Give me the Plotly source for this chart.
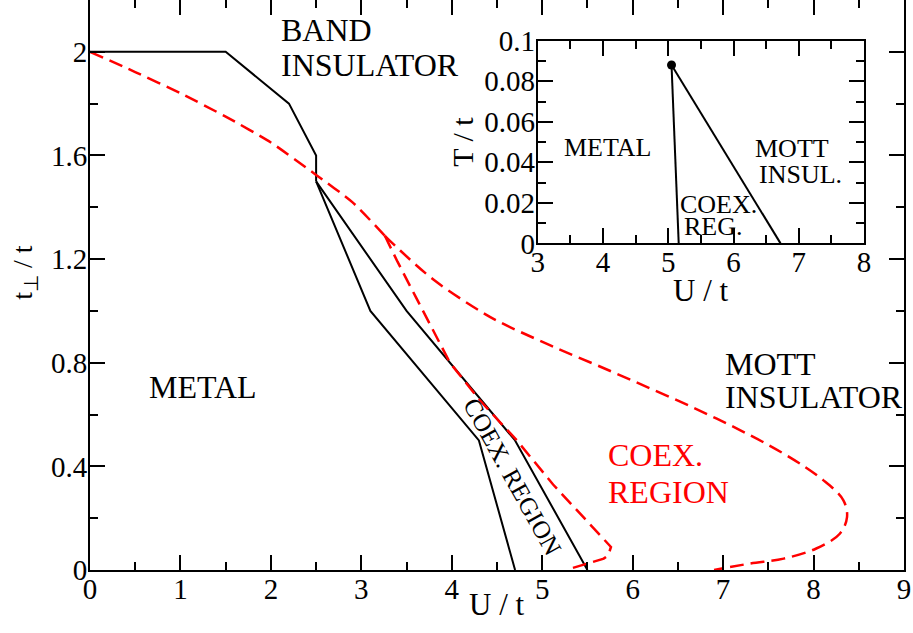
import plotly.graph_objects as go

# ---- main panel: t_perp/t versus U/t ----
# solid phase boundaries
band_U = [0.0, 1.5, 2.2, 2.5, 2.5]
band_tp = [2.0, 2.0, 1.8, 1.6, 1.5]
uc1_U = [2.5, 3.1, 4.3, 4.7]
uc1_tp = [1.5, 1.0, 0.5, 0.0]
uc2_U = [2.5, 3.5, 4.7, 5.5]
uc2_tp = [1.5, 1.0, 0.5, 0.0]

# dashed boundaries
dash_top_U = [0.0, 0.5, 1.0, 1.5, 2.0, 2.5, 2.9, 3.26]
dash_top_tp = [2.0, 1.922, 1.84, 1.75, 1.65, 1.525, 1.42, 1.29]
dash_out_U = [3.26, 3.43, 3.8, 4.31, 4.53, 5.09, 5.82, 6.93, 7.67, 8.11,
              8.33, 8.37, 8.29, 8.03, 7.67, 7.30, 6.9]
dash_out_tp = [1.29, 1.233, 1.12, 1.0, 0.957, 0.867, 0.758, 0.584, 0.449, 0.346,
               0.269, 0.204, 0.14, 0.083, 0.044, 0.025, 0.0]
dash_in_U = [3.26, 3.4, 3.6, 3.8, 3.98, 4.31, 4.72, 5.12, 5.49, 5.70, 5.76,
             5.73, 5.68, 5.31, 5.28]
dash_in_tp = [1.29, 1.19, 1.055, 0.92, 0.80, 0.655, 0.50, 0.33, 0.19, 0.11, 0.089,
              0.057, 0.044, 0.005, 0.0]

# ---- inset: T/t versus U/t ----
crit_U = [5.05]
crit_T = [0.088]
inset_uc1_U = [5.05, 5.16]
inset_uc1_T = [0.088, 0.0]
inset_uc2_U = [5.05, 6.72]
inset_uc2_T = [0.088, 0.0]

FONT = "Liberation Serif"
BLACK = "black"
RED = "#ff0000"

fig = go.Figure()

solid = dict(color=BLACK, width=2)
for xs, ys in [(band_U, band_tp), (uc1_U, uc1_tp), (uc2_U, uc2_tp)]:
    fig.add_trace(go.Scatter(x=xs, y=ys, mode="lines", line=solid,
                             xaxis="x", yaxis="y", showlegend=False, hoverinfo="skip"))

dashed = dict(color=RED, width=2.5, dash="14px,7px")
fig.add_trace(go.Scatter(x=dash_top_U, y=dash_top_tp, mode="lines",
                         line=dict(dashed, shape="spline", smoothing=0.6),
                         showlegend=False, hoverinfo="skip"))
fig.add_trace(go.Scatter(x=dash_out_U, y=dash_out_tp, mode="lines",
                         line=dict(dashed, shape="spline"), showlegend=False, hoverinfo="skip"))
fig.add_trace(go.Scatter(x=dash_in_U, y=dash_in_tp, mode="lines",
                         line=dashed, showlegend=False, hoverinfo="skip"))

# inset traces
fig.add_trace(go.Scatter(x=inset_uc1_U, y=inset_uc1_T, mode="lines", line=solid,
                         xaxis="x2", yaxis="y2", showlegend=False, hoverinfo="skip"))
fig.add_trace(go.Scatter(x=inset_uc2_U, y=inset_uc2_T, mode="lines", line=solid,
                         xaxis="x2", yaxis="y2", showlegend=False, hoverinfo="skip"))
fig.add_trace(go.Scatter(x=crit_U, y=crit_T, mode="markers",
                         marker=dict(color=BLACK, size=9),
                         xaxis="x2", yaxis="y2", showlegend=False, hoverinfo="skip"))

axis_common = dict(showgrid=False, zeroline=False, showline=True, linewidth=2,
                   linecolor=BLACK, mirror="ticks", ticks="inside", tickwidth=2,
                   tickcolor=BLACK, automargin=False,
                   tickfont=dict(family=FONT, size=29, color=BLACK))

def minor(step):
    return dict(dtick=step, ticklen=8, ticks="inside", tickwidth=2, tickcolor=BLACK)

fig.update_layout(
    width=913, height=633,
    margin=dict(l=90, r=9, t=0, b=63),
    paper_bgcolor="white", plot_bgcolor="white",
    font=dict(family=FONT, color=BLACK),
    xaxis=dict(axis_common, range=[0, 9], dtick=1, ticklen=15, minor=minor(0.5),
               ticklabelstandoff=-8),
    yaxis=dict(axis_common, range=[0, 2.2], dtick=0.4, ticklen=15, minor=minor(0.2),
               ticklabelstandoff=-5),
    xaxis2=dict(axis_common, domain=[0.55, 0.951], anchor="y2", range=[3, 8], dtick=1,
                ticklen=15, minor=minor(0.5), ticklabelstandoff=-8),
    yaxis2=dict(axis_common, domain=[0.573, 0.9286], anchor="x2", range=[0, 0.1], dtick=0.02,
                ticklen=15, minor=minor(0.01), ticklabelstandoff=-5,
                title=dict(text="T / t", font=dict(family=FONT, size=30), standoff=2)),
)

# white background behind the inset
fig.add_shape(type="rect", xref="x2 domain", yref="y2 domain", x0=0, x1=1, y0=0, y1=1,
              fillcolor="white", line=dict(width=0), layer="below")

def label(text, x, y, size, color=BLACK, xref="x", yref="y", anchor="left", angle=0):
    fig.add_annotation(text=text, x=x, y=y, xref=xref, yref=yref,
                       showarrow=False, xanchor=anchor, yanchor="middle", textangle=angle,
                       font=dict(family=FONT, size=size, color=color))

# axis titles
label("U / t", 0.5, -0.0614, 31, xref="x domain", yref="paper", anchor="center")
label("t<sub>⊥</sub> / t", -0.08, 0.523, 28, xref="x domain", yref="paper",
      anchor="center", angle=-90)
label("U / t", 0.5, -0.2305, 31, xref="x2 domain", yref="y2 domain", anchor="center")

# main panel labels
label("BAND", 2.09, 2.086, 32)
label("INSULATOR", 2.09, 1.949, 32)
label("METAL", 1.25, 0.707, 32, anchor="center")
label("MOTT", 7.0, 0.794, 32)
label("INSULATOR", 7.0, 0.666, 32)
label("COEX.", 5.71, 0.4425, 32, color=RED)
label("REGION", 5.71, 0.30, 32, color=RED)
label("COEX. REGION", 4.67, 0.361, 25, anchor="center", angle=61)

# inset labels
label("METAL", 4.07, 0.0473, 26, xref="x2", yref="y2", anchor="center")
label("MOTT", 6.89, 0.047, 26, xref="x2", yref="y2", anchor="center")
label("INSUL.", 7.03, 0.0342, 26, xref="x2", yref="y2", anchor="center")
label("COEX.", 5.77, 0.0194, 26, xref="x2", yref="y2", anchor="center")
label("REG.", 5.69, 0.0085, 26, xref="x2", yref="y2", anchor="center")

fig.write_html("out.html")
